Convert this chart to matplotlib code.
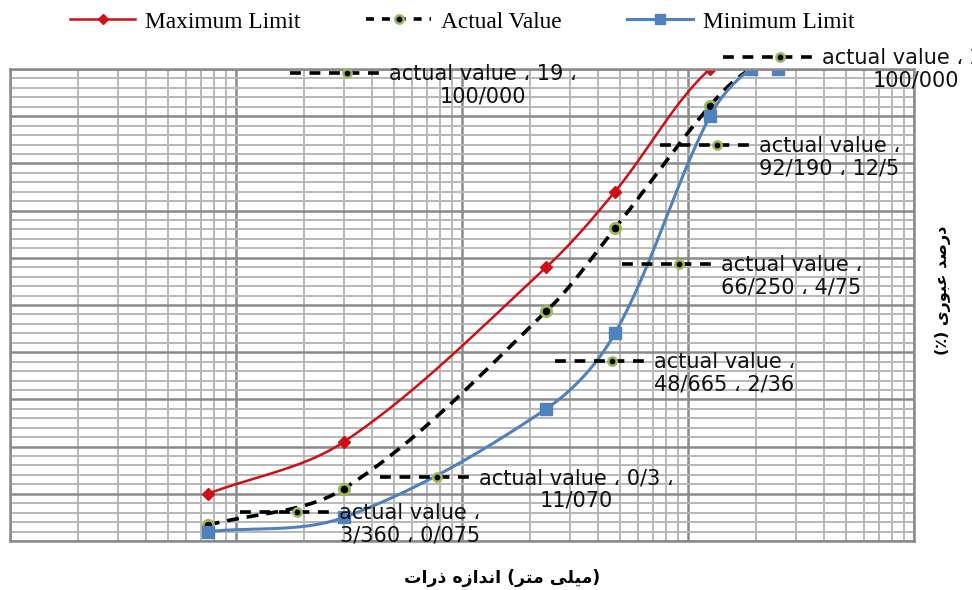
import numpy as np
import matplotlib
matplotlib.use("Agg")
import matplotlib.pyplot as plt
from matplotlib.lines import Line2D
from matplotlib.ticker import LogLocator, MultipleLocator, NullFormatter

# sieve sizes (mm) and percent passing
sieve_mm = [0.075, 0.3, 2.36, 4.75, 12.5, 19, 25]
max_limit = [10, 21, 58, 74, 100, 100, 100]
actual = [3.36, 11.07, 48.665, 66.25, 92.19, 100, 100]
min_limit = [2, 5, 28, 44, 90, 100, 100]

legend_labels = ["Maximum Limit", "Actual Value", "Minimum Limit"]
label_name = "actual value"

# Persian titles, already shaped and written in display order
# (matplotlib does no right-to-left layout)
xlabel_text = "\uFE95\uFE8D\uFEAD\uFEAB \uFEE9\uFEAF\uFE8D\uFEAA\uFEE7\uFE8D (\uFEAE\uFE98\uFEE3 \uFBFD\uFEE0\uFBFF\uFEE3)"
ylabel_text = "(\u066A) \uFBFC\uFEAD\uFEEE\uFE92\uFECB \uFEAA\uFEBB\uFEAD\uFEA9"

W, H = 972, 590
RED = "#CC1016"
BLUE = "#4F81BD"
GREEN = "#9BBB59"


def fx(v):
    return f"{v:g}".replace(".", "/")


def fy(v):
    return f"{v:.3f}".replace(".", "/")


def smooth(xs, ys, n=40):
    # cubic bezier pieces through every point, worked out in log10(x);
    # tangents are scaled by chord length so uneven spacing stays round
    p = np.column_stack([np.log10(xs) * 226, np.asarray(ys, float) * 4.72])
    d = np.hypot(*np.diff(p, axis=0).T)
    m = np.zeros_like(p)
    for i in range(len(p)):
        a = p[max(i - 1, 0)]
        b = p[min(i + 1, len(p) - 1)]
        da = d[i - 1] if i > 0 else 0
        db = d[i] if i < len(d) else 0
        m[i] = (b - a) / (da + db)
    t = np.linspace(0, 1, n)[:, None]
    parts = []
    for i in range(len(p) - 1):
        p1, p2 = p[i], p[i + 1]
        c1 = p1 + m[i] * d[i] / 3
        c2 = p2 - m[i + 1] * d[i] / 3
        seg = (1 - t) ** 3 * p1 + 3 * (1 - t) ** 2 * t * c1 + 3 * (1 - t) * t ** 2 * c2 + t ** 3 * p2
        parts.append(seg if i == 0 else seg[1:])
    out = np.vstack(parts)
    return 10 ** (out[:, 0] / 226), out[:, 1] / 4.72


def fpos(x, y):
    return x / W, 1 - y / H


fig = plt.figure(figsize=(W / 100, H / 100), dpi=100)
ax = fig.add_axes([10 / W, 49 / H, 904 / W, 472 / H])

ax.set_xscale("log")
ax.set_xlim(0.01, 100)
ax.set_ylim(0, 100)
ax.xaxis.set_major_locator(LogLocator(base=10))
ax.xaxis.set_minor_locator(LogLocator(base=10, subs=np.arange(2, 10)))
ax.xaxis.set_minor_formatter(NullFormatter())
ax.yaxis.set_major_locator(MultipleLocator(10))
ax.yaxis.set_minor_locator(MultipleLocator(2))
ax.tick_params(which="both", length=0, labelbottom=False, labelleft=False)
ax.grid(which="minor", color="#B8B8B8", lw=1.4)
ax.grid(which="major", color="#8A8A8A", lw=1.8)
ax.set_axisbelow(True)
for s in ax.spines.values():
    s.set_color("#8A8A8A")
    s.set_linewidth(1.8)

# series, drawn in the same order as the legend
sx, sy = smooth(sieve_mm, max_limit)
ax.plot(sx, sy, color=RED, lw=1.8)
ax.plot(sieve_mm, max_limit, ls="none", marker="D", ms=6, color=RED)

sx, sy = smooth(sieve_mm, actual)
ax.plot(sx, sy, color="black", lw=2.6, dashes=(3.3, 2.2))
ax.plot(sieve_mm, actual, ls="none", marker="o", ms=7.5, mfc="black", mec=GREEN, mew=2)

sx, sy = smooth(sieve_mm, min_limit)
ax.plot(sx, sy, color=BLUE, lw=2.2)
ax.plot(sieve_mm, min_limit, ls="none", marker="s", ms=8.5, color=BLUE)

# legend
handles = [
    Line2D([], [], color=RED, lw=1.8, marker="D", ms=5),
    Line2D([], [], color="black", lw=2.6, dashes=(2.2, 2.2), marker="o", ms=6,
           mfc="black", mec=GREEN, mew=1.8),
    Line2D([], [], color=BLUE, lw=2.2, marker="s", ms=7),
]
fig.legend(handles, legend_labels, loc="center left", bbox_to_anchor=fpos(70, 22),
           ncol=3, frameon=False, prop={"family": "Liberation Serif", "size": 16.8},
           handlelength=2.8, handletextpad=0.43, columnspacing=2.8,
           borderpad=0, borderaxespad=0)

# data labels with their small legend keys: (key start x, key y, x on first line)
label_pos = [(240, 512, False), (380, 477, True), (555, 361, False),
             (622, 264, False), (660, 145, False), (290, 73, True), (723, 57, True)]
for (x, y), (kx, ky, x_first) in zip(zip(sieve_mm, actual), label_pos):
    if x_first:
        txt = f"{label_name} \u060C {fx(x)} \u060C\n{fy(y)}"
    else:
        txt = f"{label_name} \u060C\n{fy(y)} \u060C {fx(x)}"
    x0, y0 = fpos(kx, ky)
    x1, _ = fpos(kx + 95, ky)
    xm, _ = fpos(kx + 57, ky)
    fig.add_artist(Line2D([x0, x1], [y0, y0], transform=fig.transFigure,
                          color="black", lw=2.6, dashes=(3.0, 2.4)))
    fig.add_artist(Line2D([xm], [y0], transform=fig.transFigure, ls="none",
                          marker="o", ms=6, mfc="black", mec=GREEN, mew=1.8))
    tx, ty = fpos(kx + 99, ky + 12.5)
    fig.text(tx, ty, txt, ha="left", va="center", multialignment="center",
             fontsize=15, family="DejaVu Sans", linespacing=1.15, color="#111111")

fig.text(*fpos(502, 578), xlabel_text, ha="center", va="center",
         fontsize=12.5, fontweight="bold", family="DejaVu Sans")
fig.text(*fpos(943, 290), ylabel_text, ha="center", va="center", rotation=90,
         fontsize=11.5, fontweight="bold", family="DejaVu Sans")

fig.savefig("out.png", dpi=100)
